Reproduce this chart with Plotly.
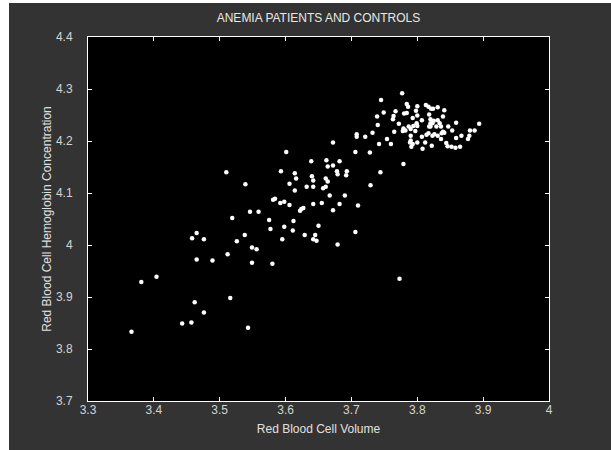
import plotly.graph_objects as go

# Red blood cell volume (x) and hemoglobin concentration (y)
rbc_volume = [
    3.539, 3.546, 3.559, 3.519, 3.465, 3.458, 3.476, 3.538, 3.526, 3.549,
    3.556, 3.512, 3.465, 3.489, 3.549, 3.404, 3.381, 3.462, 3.516, 3.476,
    3.443, 3.457, 3.366, 3.543, 3.580, 3.773,
    3.708, 3.708, 3.672, 3.706, 3.601, 3.639, 3.662, 3.682, 3.672, 3.664,
    3.510, 3.593, 3.614, 3.678, 3.679, 3.693, 3.692, 3.640, 3.616, 3.642,
    3.661, 3.664, 3.606, 3.632, 3.642, 3.661, 3.657, 3.614, 3.667, 3.690,
    3.581, 3.584, 3.592, 3.598, 3.606, 3.642, 3.655, 3.682, 3.710, 3.622,
    3.627, 3.624, 3.672, 3.575, 3.612, 3.577, 3.598, 3.650, 3.611, 3.706,
    3.629, 3.645, 3.595, 3.642, 3.647, 3.679,
    3.777, 3.745, 3.784, 3.786, 3.800, 3.749, 3.767, 3.798, 3.739, 3.764,
    3.780, 3.784, 3.800, 3.763, 3.793, 3.772, 3.740, 3.779, 3.778, 3.782,
    3.787, 3.794, 3.800, 3.790, 3.797, 3.765, 3.732, 3.721, 3.754, 3.790,
    3.790, 3.789, 3.793, 3.800, 3.791, 3.742, 3.760, 3.728, 3.779, 3.744,
    3.729,
    3.813, 3.817, 3.821, 3.824, 3.831, 3.841, 3.818, 3.839, 3.807, 3.820,
    3.825, 3.831, 3.799, 3.820, 3.823, 3.834, 3.859, 3.894, 3.818, 3.820,
    3.829, 3.836, 3.847, 3.839, 3.853, 3.880, 3.887, 3.807, 3.814, 3.817,
    3.823, 3.826, 3.831, 3.837, 3.841, 3.836, 3.859, 3.867, 3.877, 3.879,
    3.812, 3.822, 3.844, 3.846, 3.852, 3.858, 3.865, 3.808,
]
hemoglobin = [
    4.117, 4.064, 4.064, 4.052, 4.023, 4.013, 4.011, 4.019, 4.007, 3.995,
    3.992, 3.982, 3.972, 3.970, 3.966, 3.939, 3.929, 3.890, 3.898, 3.870,
    3.849, 3.851, 3.833, 3.841, 3.964, 3.935,
    4.213, 4.208, 4.197, 4.179, 4.179, 4.161, 4.163, 4.161, 4.153, 4.151,
    4.140, 4.142, 4.138, 4.142, 4.136, 4.142, 4.134, 4.132, 4.128, 4.124,
    4.128, 4.122, 4.118, 4.112, 4.112, 4.112, 4.109, 4.105, 4.095, 4.095,
    4.087, 4.089, 4.081, 4.083, 4.077, 4.079, 4.081, 4.079, 4.076, 4.066,
    4.071, 4.069, 4.067, 4.048, 4.046, 4.031, 4.035, 4.037, 4.028, 4.025,
    4.019, 4.019, 4.011, 4.011, 4.008, 4.001,
    4.292, 4.279, 4.271, 4.266, 4.267, 4.255, 4.257, 4.258, 4.247, 4.248,
    4.253, 4.254, 4.249, 4.242, 4.244, 4.233, 4.231, 4.224, 4.219, 4.220,
    4.228, 4.229, 4.229, 4.223, 4.219, 4.218, 4.216, 4.208, 4.204, 4.210,
    4.201, 4.197, 4.194, 4.197, 4.189, 4.194, 4.194, 4.178, 4.156, 4.140,
    4.115,
    4.269, 4.266, 4.262, 4.262, 4.265, 4.259, 4.251, 4.247, 4.240, 4.242,
    4.239, 4.240, 4.234, 4.234, 4.234, 4.234, 4.235, 4.233, 4.228, 4.228,
    4.228, 4.228, 4.228, 4.218, 4.220, 4.220, 4.220, 4.208, 4.212, 4.215,
    4.210, 4.213, 4.210, 4.215, 4.216, 4.204, 4.206, 4.210, 4.204, 4.210,
    4.197, 4.191, 4.196, 4.190, 4.189, 4.187, 4.189, 4.185,
]

x_ticks = [3.3, 3.4, 3.5, 3.6, 3.7, 3.8, 3.9, 4.0]
x_tick_labels = ["3.3", "3.4", "3.5", "3.6", "3.7", "3.8", "3.9", "4"]
y_ticks = [3.7, 3.8, 3.9, 4.0, 4.1, 4.2, 4.3, 4.4]
y_tick_labels = ["3.7", "3.8", "3.9", "4", "4.1", "4.2", "4.3", "4.4"]

FONT = "Liberation Sans, Arial, Helvetica, sans-serif"
TICK_COLOR = "#d4d4d4"

fig = go.Figure()
fig.add_trace(go.Scatter(
    x=rbc_volume, y=hemoglobin, mode="markers",
    marker=dict(color="white", size=4.5, line=dict(width=0)),
    showlegend=False, hoverinfo="x+y",
))

axis_common = dict(
    showgrid=False, zeroline=False,
    showline=True, linecolor="white", linewidth=1, mirror="ticks",
    ticks="inside", ticklen=4, tickcolor="white", tickwidth=1,
    tickfont=dict(family=FONT, size=12, color=TICK_COLOR),
)

FIG_W, FIG_H = 602, 447

fig.update_layout(
    width=FIG_W, height=FIG_H,
    margin=dict(l=79, r=62, t=34, b=49),
    paper_bgcolor="#333333", plot_bgcolor="black",
    font=dict(family=FONT, color=TICK_COLOR),
    title=dict(text="ANEMIA PATIENTS AND CONTROLS", x=0.5, xref="paper",
               y=1 - 15 / FIG_H, yref="container", yanchor="middle",
               xanchor="center",
               font=dict(family=FONT, size=12, color="#e8e8e8")),
    xaxis=dict(range=[3.3, 4.0], tickvals=x_ticks, ticktext=x_tick_labels,
               title=dict(text="Red Blood Cell Volume", standoff=8,
                          font=dict(family=FONT, size=12, color="#e0e0e0")),
               ticklabelstandoff=-2,
               **axis_common),
    yaxis=dict(range=[3.7, 4.4], tickvals=y_ticks, ticktext=y_tick_labels,
               title=dict(text="Red Blood Cell Hemoglobin Concentration", standoff=1,
                          font=dict(family=FONT, size=12, color="#e0e0e0")),
               ticklabelstandoff=12,
               **axis_common),
)

fig.write_html("out.html",
               post_script="document.body.style.margin='3px 0 0 9px';")
